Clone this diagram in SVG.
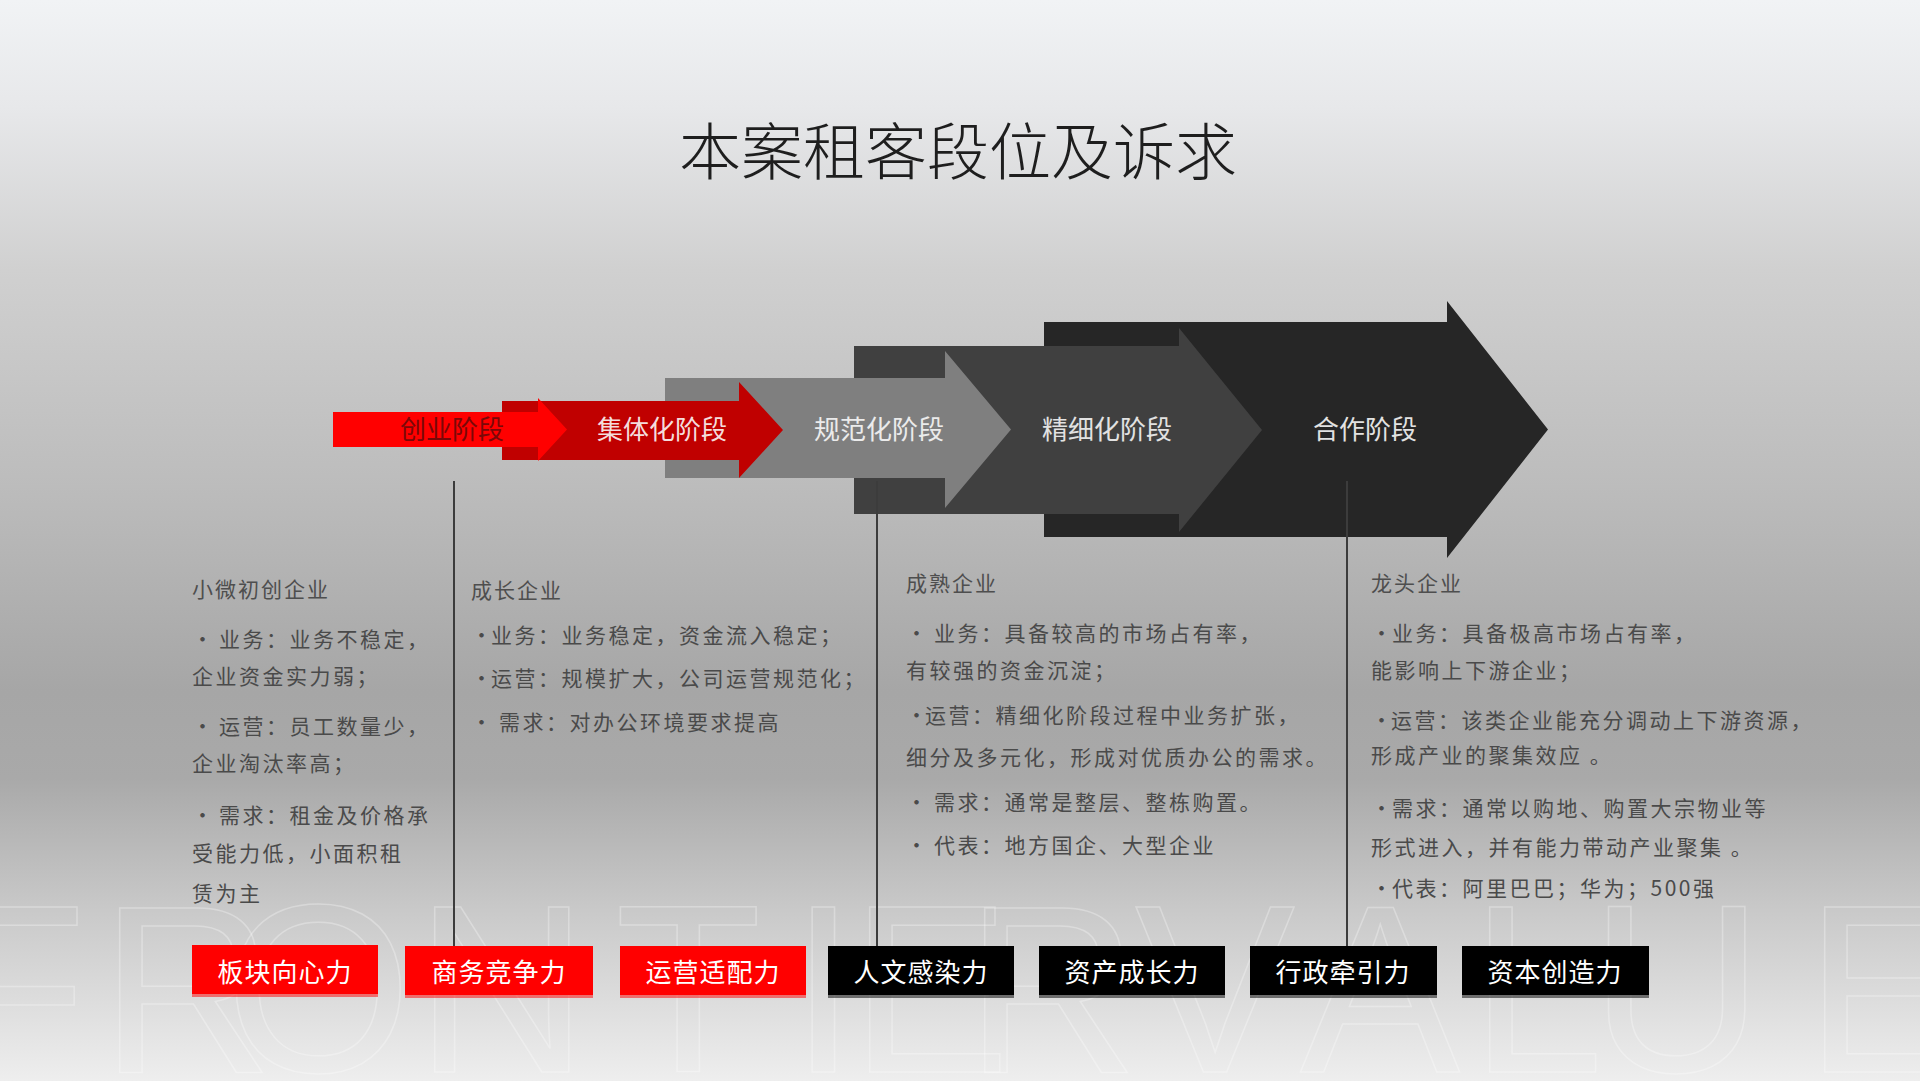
<svg xmlns="http://www.w3.org/2000/svg" width="1920" height="1081" viewBox="0 0 1920 1081">
  <defs>
    <linearGradient id="bg" x1="0" y1="0" x2="0" y2="1">
      <stop offset="0" stop-color="#f1f3f5"/>
      <stop offset="0.1" stop-color="#e7e8ea"/>
      <stop offset="0.25" stop-color="#d0d0d0"/>
      <stop offset="0.45" stop-color="#bcbcbc"/>
      <stop offset="0.64" stop-color="#a6a6a6"/>
      <stop offset="0.72" stop-color="#a9a9a9"/>
      <stop offset="0.85" stop-color="#cbcbcb"/>
      <stop offset="1" stop-color="#eeeeee"/>
    </linearGradient>
    <style>
      .cjk { font-family: "Noto Sans CJK SC", "Noto Sans", sans-serif; }
      .title { font-size: 62px; fill: #1e1e1e; font-weight: 300; }
      .stage { font-size: 26px; text-anchor: middle; }
      .body { font-size: 21px; fill: #4a4a4a; letter-spacing: 2.5px; }
      .head { font-size: 21px; fill: #4e4e4e; letter-spacing: 2px; }
      .tag { font-size: 26px; fill: #ffffff; text-anchor: middle; letter-spacing: 1px; }
      .red { fill: #ff0000; }
      .blk { fill: #000000; }
      .vline { stroke: #3c3c3c; stroke-width: 2; fill: none; }
      .wm { font-family: "Liberation Sans", "DejaVu Sans", sans-serif; font-size: 240px; fill: none; stroke: #ffffff; stroke-width: 1.5; stroke-opacity: 0.3; }
    </style>
  </defs>

  <rect x="0" y="0" width="1920" height="1081" fill="url(#bg)"/>

  <!-- watermark -->
  <text class="wm" y="1072" x="-60 100 225 415 615 790 850 965 1135 1300 1470 1590 1805">FRONTIERVALUE</text>

  <!-- title -->
  <text class="cjk title" x="958" y="175" text-anchor="middle">本案租客段位及诉求</text>

  <!-- stage arrows -->
  <g id="stage-hezuo">
    <path d="M1044,322 H1447 V301 L1548,429.5 L1447,558 V537 H1044 Z" fill="#262626"/>
    <text class="cjk stage" x="1365" y="439" fill="#e2e2e2">合作阶段</text>
  </g>
  <g id="stage-jingxihua">
    <path d="M854,346 H1179 V328 L1262,430 L1179,532 V514 H854 Z" fill="#404040"/>
    <text class="cjk stage" x="1107" y="439" fill="#e2e2e2">精细化阶段</text>
  </g>
  <g id="stage-guifanhua">
    <path d="M665,378 H945 V351 L1011,429.5 L945,508 V478 H665 Z" fill="#7f7f7f"/>
    <text class="cjk stage" x="879" y="439" fill="#ebebeb">规范化阶段</text>
  </g>
  <g id="stage-jitihua">
    <path d="M502,401 H739 V382 L783,430 L739,478 V460 H502 Z" fill="#c00000"/>
    <text class="cjk stage" x="662" y="439" fill="#f4dcdc">集体化阶段</text>
  </g>
  <g id="stage-chuangye">
    <path d="M333,412 H538 V398 L567,429.5 L538,461 V447 H333 Z" fill="#ff0000"/>
    <text class="cjk stage" x="452" y="439" fill="#7a0808">创业阶段</text>
  </g>

  <!-- connectors -->
  <g id="connectors">
    <line class="vline" x1="454" y1="481" x2="454" y2="946"/>
    <line class="vline" x1="877" y1="481" x2="877" y2="946"/>
    <line class="vline" x1="1347" y1="481" x2="1347" y2="946"/>
  </g>

  <!-- column 1 -->
  <g id="col-xiaowei" class="cjk">
    <text class="head" x="192" y="597">小微初创企业</text>
    <text class="body" y="647"><tspan x="192">•</tspan><tspan x="219">业务：业务不稳定，</tspan></text>
    <text class="body" x="192" y="684">企业资金实力弱；</text>
    <text class="body" y="734"><tspan x="192">•</tspan><tspan x="219">运营：员工数量少，</tspan></text>
    <text class="body" x="192" y="771">企业淘汰率高；</text>
    <text class="body" y="823"><tspan x="192">•</tspan><tspan x="219">需求：租金及价格承</tspan></text>
    <text class="body" x="192" y="861">受能力低，小面积租</text>
    <text class="body" x="192" y="901">赁为主</text>
  </g>

  <!-- column 2 -->
  <g id="col-chengzhang" class="cjk">
    <text class="head" x="471" y="598">成长企业</text>
    <text class="body" y="643"><tspan x="471">•</tspan><tspan x="491">业务：业务稳定，资金流入稳定；</tspan></text>
    <text class="body" y="686"><tspan x="471">•</tspan><tspan x="491">运营：规模扩大，公司运营规范化；</tspan></text>
    <text class="body" y="730"><tspan x="471">•</tspan><tspan x="499">需求：对办公环境要求提高</tspan></text>
  </g>

  <!-- column 3 -->
  <g id="col-chengshu" class="cjk">
    <text class="head" x="906" y="591">成熟企业</text>
    <text class="body" y="641"><tspan x="906">•</tspan><tspan x="934">业务：具备较高的市场占有率，</tspan></text>
    <text class="body" x="906" y="678">有较强的资金沉淀；</text>
    <text class="body" y="723"><tspan x="906">•</tspan><tspan x="925">运营：精细化阶段过程中业务扩张，</tspan></text>
    <text class="body" x="906" y="765">细分及多元化，形成对优质办公的需求。</text>
    <text class="body" y="810"><tspan x="906">•</tspan><tspan x="934">需求：通常是整层、整栋购置。</tspan></text>
    <text class="body" y="853"><tspan x="906">•</tspan><tspan x="934">代表：地方国企、大型企业</tspan></text>
  </g>

  <!-- column 4 -->
  <g id="col-longtou" class="cjk">
    <text class="head" x="1371" y="591">龙头企业</text>
    <text class="body" y="641"><tspan x="1371">•</tspan><tspan x="1392">业务：具备极高市场占有率，</tspan></text>
    <text class="body" x="1371" y="678">能影响上下游企业；</text>
    <text class="body" y="728"><tspan x="1371">•</tspan><tspan x="1391">运营：该类企业能充分调动上下游资源，</tspan></text>
    <text class="body" x="1371" y="763">形成产业的聚集效应 。</text>
    <text class="body" y="816"><tspan x="1371">•</tspan><tspan x="1392">需求：通常以购地、购置大宗物业等</tspan></text>
    <text class="body" x="1371" y="855">形式进入，并有能力带动产业聚集 。</text>
    <text class="body" y="896"><tspan x="1371">•</tspan><tspan x="1392">代表：阿里巴巴；华为；500强</tspan></text>
  </g>

  <!-- bottom tags -->
  <g id="tag-1">
    <rect class="red" x="192" y="945" width="186" height="49"/>
    <rect class="red" x="192" y="994" width="186" height="3" opacity="0.5"/>
    <text class="cjk tag" x="285" y="982">板块向心力</text>
  </g>
  <g id="tag-2">
    <rect class="red" x="405" y="946" width="188" height="49"/>
    <rect class="red" x="405" y="995" width="188" height="3" opacity="0.5"/>
    <text class="cjk tag" x="499" y="982">商务竞争力</text>
  </g>
  <g id="tag-3">
    <rect class="red" x="620" y="946" width="186" height="49"/>
    <rect class="red" x="620" y="995" width="186" height="3" opacity="0.5"/>
    <text class="cjk tag" x="713" y="982">运营适配力</text>
  </g>
  <g id="tag-4">
    <rect class="blk" x="828" y="946" width="186" height="49"/>
    <rect class="blk" x="828" y="995" width="186" height="3" opacity="0.5"/>
    <text class="cjk tag" x="921" y="982">人文感染力</text>
  </g>
  <g id="tag-5">
    <rect class="blk" x="1039" y="946" width="186" height="49"/>
    <rect class="blk" x="1039" y="995" width="186" height="3" opacity="0.5"/>
    <text class="cjk tag" x="1132" y="982">资产成长力</text>
  </g>
  <g id="tag-6">
    <rect class="blk" x="1250" y="946" width="187" height="49"/>
    <rect class="blk" x="1250" y="995" width="187" height="3" opacity="0.5"/>
    <text class="cjk tag" x="1343" y="982">行政牵引力</text>
  </g>
  <g id="tag-7">
    <rect class="blk" x="1462" y="946" width="187" height="49"/>
    <rect class="blk" x="1462" y="995" width="187" height="3" opacity="0.5"/>
    <text class="cjk tag" x="1555" y="982">资本创造力</text>
  </g>
</svg>
